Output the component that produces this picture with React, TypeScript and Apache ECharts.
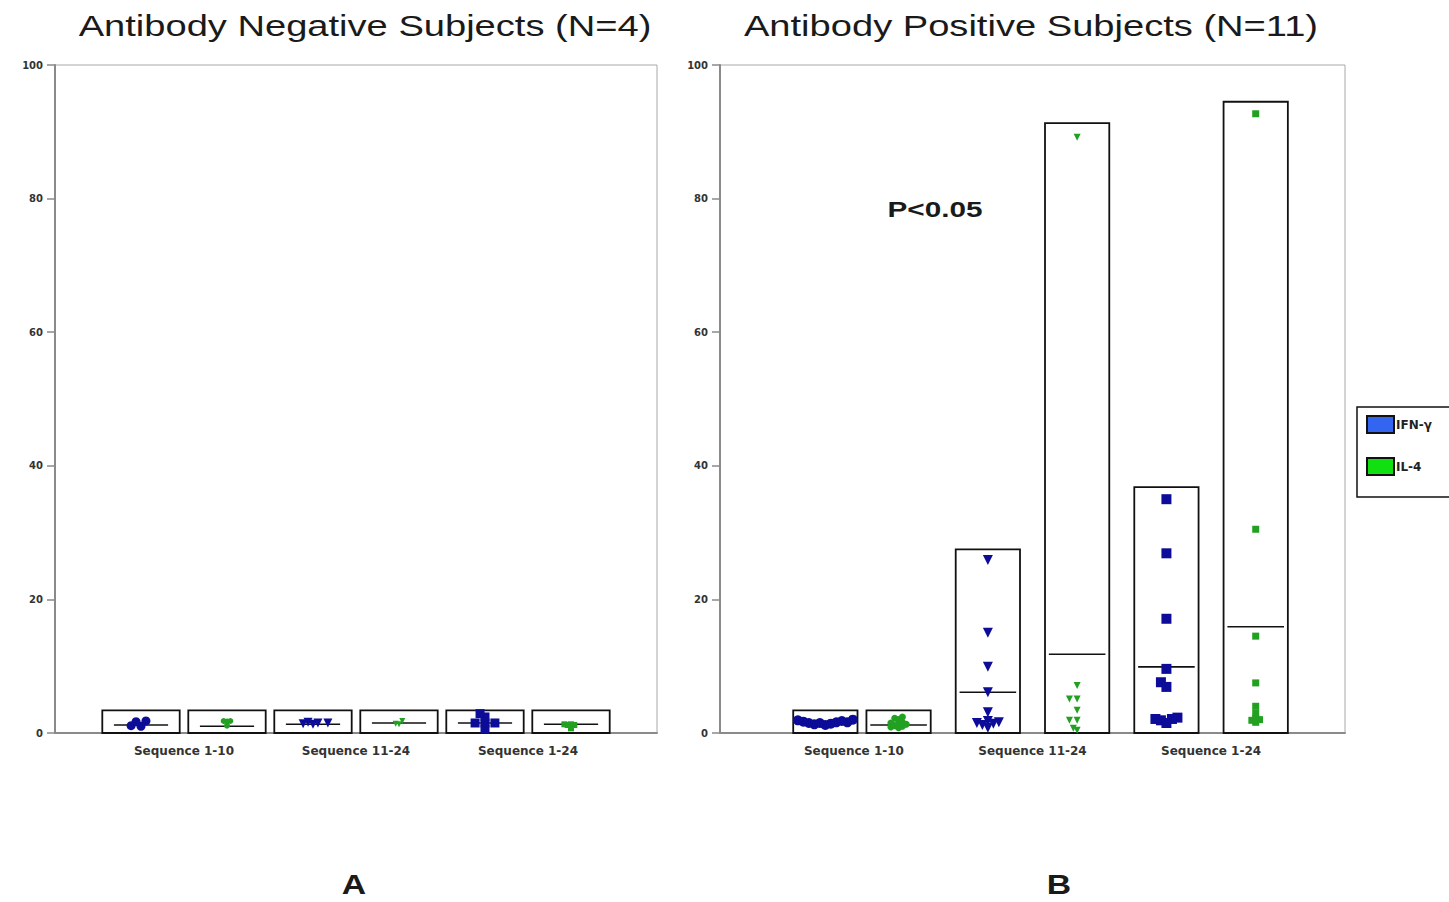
import React, { useEffect, useRef } from 'react';
import * as echarts from 'echarts';

// ---------- data ----------
const categories = ['Sequence 1-10', 'Sequence 11-24', 'Sequence 1-24'];
const yTicks = [0, 20, 40, 60, 80, 100];
const legendNames = ['IFN-γ', 'IL-4'];

// Panel A: antibody negative subjects (values per category)
const negIFN = [
  [1.0, 1.1, 1.7, 1.8],
  [1.3, 1.4, 1.5, 1.5, 1.6],
  [0.6, 1.5, 1.5, 1.5, 2.4, 2.9],
];
const negIL4 = [
  [1.1, 1.7, 1.8, 1.8],
  [1.3, 1.8, 1.4],
  [1.2, 1.2, 1.3, 1.3, 0.7],
];
const negBoxIFN = [3.4, 3.4, 3.4];
const negBoxIL4 = [3.4, 3.4, 3.4];
const negMeanIFN = [1.2, 1.3, 1.5];
const negMeanIL4 = [1.0, 1.5, 1.3];

// Panel B: antibody positive subjects
const posIFN = [
  [1.2, 1.3, 1.4, 1.5, 1.5, 1.6, 1.6, 1.7, 1.8, 1.9, 2.0],
  [25.9, 15.0, 9.9, 6.1, 3.1, 1.8, 1.6, 1.5, 1.4, 1.2, 0.8],
  [35.0, 26.9, 17.1, 9.6, 7.6, 6.9, 2.3, 2.1, 2.1, 1.9, 1.5],
];
const posIL4 = [
  [0.8, 1.0, 1.4, 1.6, 2.2, 2.4, 1.5, 1.3, 1.1, 2.0, 0.9],
  [89.2, 7.1, 5.1, 5.1, 3.4, 1.9, 1.9, 0.7, 0.4],
  [92.7, 30.5, 14.5, 7.5, 4.0, 3.0, 2.2, 2.0, 1.9, 1.6],
];
const posBoxIFN = [3.4, 27.5, 36.8];
const posBoxIL4 = [3.4, 91.3, 94.5];
const posMeanIFN = [1.5, 6.1, 9.9];
const posMeanIL4 = [1.2, 11.8, 15.9];

// ---------- layout / style ----------
const X_MAX = 3.5;
const GRID_A = { left: 55, top: 65, width: 602, height: 668 };
const GRID_B = { left: 720, top: 65, width: 625, height: 668 };
const BOX_POS_A = [0.5, 1, 1.5, 2, 2.5, 3];
const BOX_POS_B = [0.59, 1, 1.5, 2, 2.5, 3];
const BOX_W_A = 0.45;
const BOX_W_B = 0.36;
const IFN_COLOR = '#0c0c98';
const IL4_COLOR = '#22a022';
const SYMBOLS = [
  { symbol: 'circle', rotate: 0 },
  { symbol: 'triangle', rotate: 180 },
  { symbol: 'rect', rotate: 0 },
];

function swarm(values: number[], size: number, pxPerY: number): number[] {
  const order = values.map((v, i) => i).sort((a, b) => values[a] - values[b]);
  const placed: { x: number; y: number }[] = [];
  const out = new Array(values.length).fill(0);
  const step = size * 0.55;
  const minD = size * 0.56;
  order.forEach((i) => {
    const y = values[i] * pxPerY;
    for (let k = 0; k < 40; k++) {
      const slot = k === 0 ? 0 : (k % 2 === 1 ? -(k + 1) / 2 : k / 2);
      const x = slot * step;
      const hit = placed.some((p) => (p.x - x) ** 2 + (p.y - y) ** 2 < minD * minD);
      if (!hit) {
        placed.push({ x, y });
        out[i] = x;
        break;
      }
    }
  });
  return out;
}

function scatterData(groups: number[][], which: number, boxPos: number[], grid: any, size: number) {
  const pxPerX = grid.width / X_MAX;
  const pxPerY = grid.height / 100;
  const data: any[] = [];
  groups.forEach((vals, c) => {
    const x0 = boxPos[c * 2 + which];
    const offs = swarm(vals, size, pxPerY);
    vals.forEach((v, i) => {
      data.push({
        value: [x0 + offs[i] / pxPerX, v],
        symbol: SYMBOLS[c].symbol,
        symbolRotate: SYMBOLS[c].rotate,
      });
    });
  });
  return data;
}

function boxRows(boxIFN: number[], boxIL4: number[], meanIFN: number[], meanIL4: number[], boxPos: number[]) {
  const rows: number[][] = [];
  categories.forEach((_, c) => {
    rows.push([boxPos[c * 2], boxIFN[c], meanIFN[c]]);
    rows.push([boxPos[c * 2 + 1], boxIL4[c], meanIL4[c]]);
  });
  return rows;
}

function makeBoxRender(boxW: number, insetFrac: number) {
  return (params: any, api: any) => {
    const x = api.value(0);
    const top = api.value(1);
    const mean = api.value(2);
    const w = api.size([boxW, 0])[0];
    const p0 = api.coord([x, 0]);
    const p1 = api.coord([x, top]);
    const pm = api.coord([x, mean]);
    const inset = w * insetFrac;
    return {
      type: 'group',
      children: [
        {
          type: 'rect',
          shape: { x: p0[0] - w / 2, y: p1[1], width: w, height: p0[1] - p1[1] },
          style: { fill: '#ffffff', stroke: '#111111', lineWidth: 1.8 },
        },
        {
          type: 'line',
          shape: { x1: p0[0] - w / 2 + inset, y1: pm[1], x2: p0[0] + w / 2 - inset, y2: pm[1] },
          style: { stroke: '#111111', lineWidth: 1.6 },
          z2: 10,
        },
      ],
    };
  };
}

function xAxisFor(gridIndex: number) {
  return {
    type: 'value',
    gridIndex,
    min: 0,
    max: X_MAX,
    interval: 0.25,
    axisLine: { show: true, lineStyle: { color: '#8a8a8a', width: 2 } },
    axisTick: { show: false },
    splitLine: { show: false },
    axisLabel: {
      margin: 12,
      fontFamily: 'DejaVu Sans',
      fontWeight: 'bold',
      fontSize: 12,
      color: '#333',
      showMinLabel: false,
      showMaxLabel: false,
      formatter: (v: number) => {
        const idx = categories.findIndex((_, i) => Math.abs(v - (i + 0.75)) < 1e-6);
        return idx >= 0 ? categories[idx] : '';
      },
    },
  };
}

function yAxisFor(gridIndex: number) {
  return {
    type: 'value',
    gridIndex,
    min: yTicks[0],
    max: yTicks[yTicks.length - 1],
    interval: yTicks[1] - yTicks[0],
    axisLine: { show: true, lineStyle: { color: '#8a8a8a', width: 2 } },
    axisTick: { show: true, length: 8, lineStyle: { color: '#8a8a8a', width: 1.5 } },
    splitLine: { show: false },
    axisLabel: {
      margin: 12,
      fontFamily: 'DejaVu Sans',
      fontWeight: 'bold',
      fontSize: 10,
      color: '#333',
    },
  };
}

function stretchedText(text: string, x: number, y: number, size: number, scaleX: number, weight: string) {
  return {
    type: 'text',
    x,
    y,
    scaleX,
    style: {
      text,
      x: 0,
      y: 0,
      align: 'center',
      verticalAlign: 'middle',
      fontFamily: 'Liberation Sans',
      fontSize: size,
      fontWeight: weight,
      fill: '#1a1a1a',
    },
  };
}

export default function App() {
  const ref = useRef<HTMLDivElement>(null);

  useEffect(() => {
    if (!ref.current) return;
    const chart = echarts.init(ref.current, undefined, { renderer: 'svg' });

    const option: any = {
      animation: false,
      backgroundColor: '#ffffff',
      grid: [
        { ...GRID_A, show: true, borderColor: '#a8a8a8', borderWidth: 1, containLabel: false },
        { ...GRID_B, show: true, borderColor: '#a8a8a8', borderWidth: 1, containLabel: false },
      ],
      xAxis: [xAxisFor(0), xAxisFor(1)],
      yAxis: [yAxisFor(0), yAxisFor(1)],
      legend: {
        orient: 'vertical',
        left: 1357,
        top: 407,
        padding: [8, 40, 21, 9],
        itemWidth: 27,
        itemHeight: 17,
        itemGap: 23,
        selectedMode: false,
        borderColor: '#111',
        borderWidth: 1.5,
        textStyle: { fontFamily: 'DejaVu Sans', fontWeight: 'bold', fontSize: 12, color: '#222', padding: [0, 0, 0, -3] },
        data: [
          { name: legendNames[0], icon: 'rect', itemStyle: { color: '#3465f0', borderColor: '#111', borderWidth: 2 } },
          { name: legendNames[1], icon: 'rect', itemStyle: { color: '#10e010', borderColor: '#111', borderWidth: 2 } },
        ],
      },
      graphic: [
        stretchedText('Antibody Negative Subjects (N=4)', 365, 26, 30, 1.27, 'normal'),
        stretchedText('Antibody Positive Subjects (N=11)', 1031, 26, 30, 1.27, 'normal'),
        stretchedText('P<0.05', 935, 209, 22, 1.35, 'bold'),
        stretchedText('A', 354, 884, 27, 1.25, 'bold'),
        stretchedText('B', 1059, 884, 27, 1.25, 'bold'),
      ],
      series: [
        {
          type: 'custom',
          xAxisIndex: 0,
          yAxisIndex: 0,
          z: 2,
          silent: true,
          encode: { x: 0, y: 1 },
          renderItem: makeBoxRender(BOX_W_A, 0.15),
          data: boxRows(negBoxIFN, negBoxIL4, negMeanIFN, negMeanIL4, BOX_POS_A),
        },
        {
          type: 'custom',
          xAxisIndex: 1,
          yAxisIndex: 1,
          z: 2,
          silent: true,
          encode: { x: 0, y: 1 },
          renderItem: makeBoxRender(BOX_W_B, 0.06),
          data: boxRows(posBoxIFN, posBoxIL4, posMeanIFN, posMeanIL4, BOX_POS_B),
        },
        {
          name: legendNames[0],
          type: 'scatter',
          xAxisIndex: 0,
          yAxisIndex: 0,
          z: 3,
          symbolSize: 9,
          itemStyle: { color: IFN_COLOR, opacity: 1 },
          data: scatterData(negIFN, 0, BOX_POS_A, GRID_A, 9),
        },
        {
          name: legendNames[1],
          type: 'scatter',
          xAxisIndex: 0,
          yAxisIndex: 0,
          z: 3,
          symbolSize: 6,
          itemStyle: { color: IL4_COLOR, opacity: 1 },
          data: scatterData(negIL4, 1, BOX_POS_A, GRID_A, 6),
        },
        {
          name: legendNames[0],
          type: 'scatter',
          xAxisIndex: 1,
          yAxisIndex: 1,
          z: 3,
          symbolSize: 10,
          itemStyle: { color: IFN_COLOR, opacity: 1 },
          data: scatterData(posIFN, 0, BOX_POS_B, GRID_B, 10),
        },
        {
          name: legendNames[1],
          type: 'scatter',
          xAxisIndex: 1,
          yAxisIndex: 1,
          z: 3,
          symbolSize: 7,
          itemStyle: { color: IL4_COLOR, opacity: 1 },
          data: scatterData(posIL4, 1, BOX_POS_B, GRID_B, 7),
        },
      ],
    };

    chart.setOption(option);
    return () => chart.dispose();
  }, []);

  return (
    <div
      ref={ref}
      style={{ position: 'fixed', left: 0, top: 0, width: 1449, height: 902, background: '#fff' }}
    />
  );
}
